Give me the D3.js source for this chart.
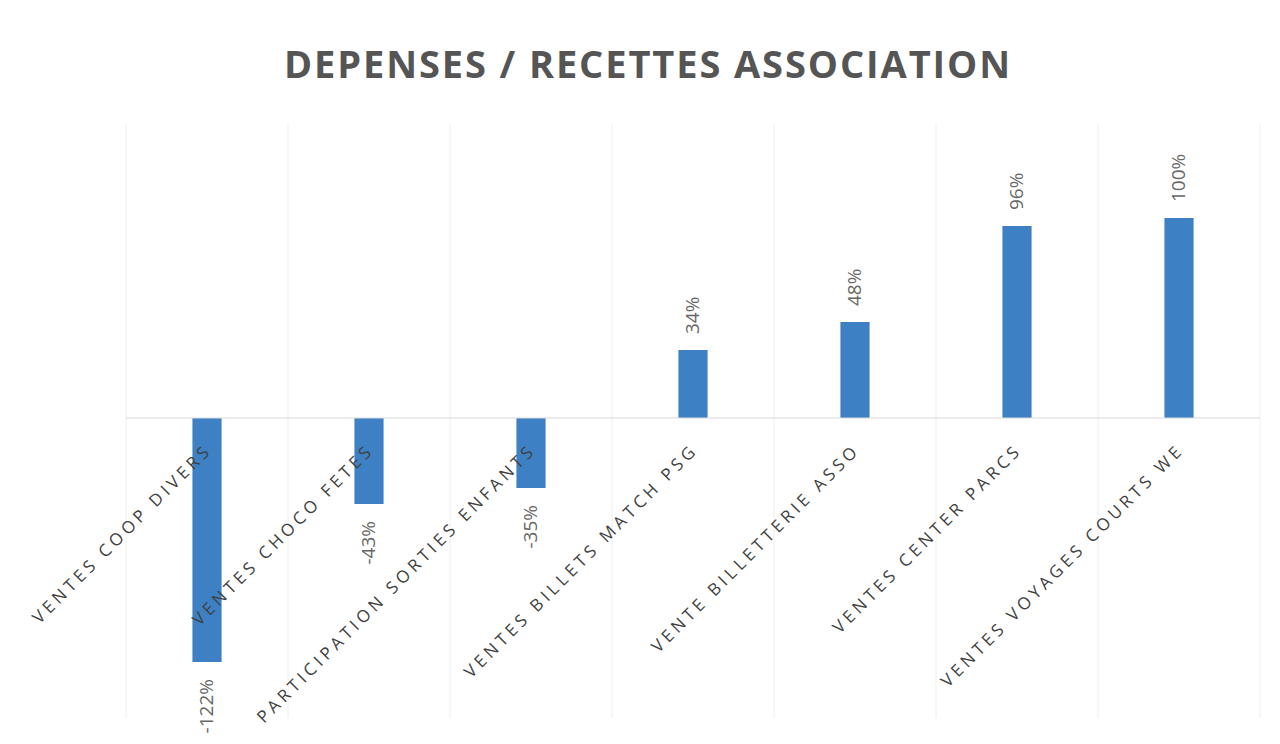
<!DOCTYPE html>
<html>
<head>
  <script src="https://d3js.org/d3.v7.min.js"></script>
  <style>
    body { margin: 0; background: #fff; }
    .title { font-family: "Open Sans", sans-serif; font-weight: bold; fill: #555; }
    .cat { font-family: "Open Sans", sans-serif; fill: #404040; }
    .val { font-family: "Open Sans", sans-serif; fill: #666; }
  </style>
</head>
<body>
<div id="chart"></div>
<script>
  // data
  var categories = ["VENTES COOP DIVERS", "VENTES CHOCO FETES", "PARTICIPATION SORTIES ENFANTS",
    "VENTES BILLETS MATCH PSG", "VENTE BILLETTERIE ASSO", "VENTES CENTER PARCS", "VENTES VOYAGES COURTS WE"];
  var values = [-1.22, -0.43, -0.35, 0.34, 0.48, 0.96, 1.00];
  var labels = ["-122%", "-43%", "-35%", "34%", "48%", "96%", "100%"];

  var width = 1280, height = 744;
  var svg = d3.select("#chart").append("svg")
    .attr("width", width)
    .attr("height", height);

  var x = d3.scaleBand().domain(categories).range([126, 1260]).padding(0);
  var y = d3.scaleLinear().domain([-1.5, 1.5]).range([718, 118]);
  var barW = x.bandwidth() * 0.18;

  // faint vertical category gridlines
  var gridX = categories.map(function(c) { return x(c); }).concat([x.range()[1]]);
  svg.selectAll(".grid").data(gridX).enter().append("line")
    .attr("x1", function(d) { return d; }).attr("x2", function(d) { return d; })
    .attr("y1", y(1.5) + 6).attr("y2", y(-1.5))
    .attr("stroke", "#eeeeee").attr("stroke-width", 1);

  // bars
  svg.selectAll(".bar").data(values).enter().append("rect")
    .attr("x", function(d, i) { return x(categories[i]) + (x.bandwidth() - barW) / 2; })
    .attr("y", function(d) { return y(Math.max(0, d)); })
    .attr("width", barW)
    .attr("height", function(d) { return Math.abs(y(d) - y(0)); })
    .attr("fill", "#3d80c4");

  // zero line
  svg.append("line")
    .attr("x1", x.range()[0]).attr("x2", x.range()[1])
    .attr("y1", y(0)).attr("y2", y(0))
    .attr("stroke", "#d9d9d9").attr("stroke-width", 1);

  // value labels, rotated
  svg.selectAll(".val").data(values).enter().append("text")
    .attr("class", "val")
    .attr("font-size", 19)
    .attr("dominant-baseline", "middle")
    .attr("text-anchor", function(d) { return d < 0 ? "end" : "start"; })
    .attr("transform", function(d, i) {
      var cx = x(categories[i]) + x.bandwidth() / 2 + 1;
      var yy = d < 0 ? y(d) + 17 : y(d) - 16;
      return "translate(" + cx + "," + yy + ") rotate(-90)";
    })
    .text(function(d, i) { return labels[i]; });

  // category labels at -45 degrees
  svg.selectAll(".cat").data(categories).enter().append("text")
    .attr("class", "cat")
    .attr("font-size", 17)
    .attr("letter-spacing", 4)
    .attr("text-anchor", "end")
    .attr("transform", function(c) {
      var cx = x(c) + x.bandwidth() / 2 + 6;
      return "translate(" + cx + "," + (y(0) + 33) + ") rotate(-45)";
    })
    .text(function(c) { return c; });

  svg.append("text")
    .attr("class", "title")
    .attr("x", 648).attr("y", 78)
    .attr("text-anchor", "middle")
    .attr("font-size", 38)
    .attr("letter-spacing", 1.9)
    .text("DEPENSES / RECETTES ASSOCIATION");
</script>
</body>
</html>
